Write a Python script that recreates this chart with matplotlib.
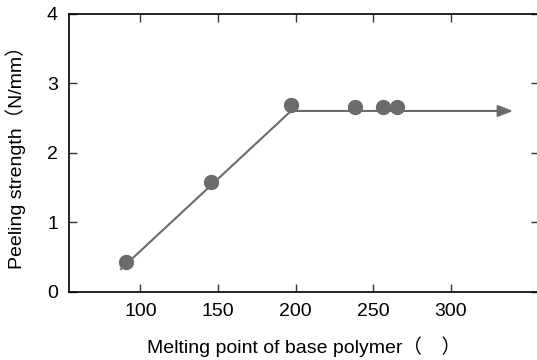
import matplotlib
matplotlib.use("Agg")
import matplotlib.pyplot as plt

plt.rcParams['font.family'] = ['Liberation Sans', 'Noto Sans CJK SC']

# measured points
melt_point = [90.5, 145.5, 197, 238.5, 256.5, 265.5]
peel_strength = [0.435, 1.585, 2.68, 2.66, 2.66, 2.65]

# trend line (kinked, arrow on the plateau)
trend_x = [87.5, 197, 340]
trend_y = [0.33, 2.6, 2.6]

x_ticks = [100, 150, 200, 250, 300]
y_ticks = [0, 1, 2, 3, 4]

gray = '#6b6b6b'

fig = plt.figure(figsize=(5.37, 3.6), dpi=100)
ax = fig.add_axes([0.1285, 0.189, 0.876, 0.7735])

ax.plot(trend_x[:2], trend_y[:2], color=gray, lw=1.5, zorder=2)
ax.annotate('', xy=(trend_x[2], trend_y[2]), xytext=(trend_x[1], trend_y[1]),
            arrowprops=dict(arrowstyle='-|>,head_length=0.9,head_width=0.35',
                            color=gray, lw=1.5, shrinkA=0, shrinkB=0))
ax.plot(melt_point, peel_strength, 'o', color=gray, markersize=10, zorder=3)

ax.set_xlim(54, 357)
ax.set_ylim(0, 4)
ax.set_xticks(x_ticks)
ax.set_yticks(y_ticks)
ax.tick_params(direction='in', top=True, right=True, length=6, width=1,
               labelsize=14, color='#333333')
ax.tick_params(axis='x', pad=8)
ax.tick_params(axis='y', pad=8)
for s in ax.spines.values():
    s.set_linewidth(1.2)

ax.set_xlabel('Melting point of base polymer（\u3000）', fontsize=14, labelpad=12)
ax.set_ylabel('Peeling strength（N/mm）', fontsize=14, labelpad=15)

fig.savefig('out.png', dpi=100)
